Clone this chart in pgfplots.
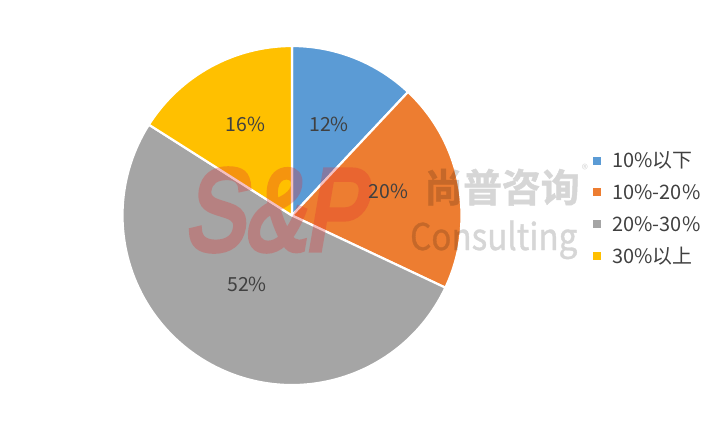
\documentclass[border=0pt]{standalone}
\usepackage{fontspec}
\setmainfont{Noto Sans CJK SC}
\newfontfamily\wmfont{Liberation Sans}[FakeSlant=0.22, FakeBold=5]
\newfontfamily\cjkbold{Noto Sans CJK SC Bold}[FakeBold=1.2]
\newfontfamily\wmlatin{Noto Sans CJK SC}[FakeBold=1]
\usepackage{pgfplots}
\usepackage{pgfplotstable}
\pgfplotsset{compat=1.18}

\definecolor{c1}{HTML}{5B9BD5}
\definecolor{c2}{HTML}{ED7D31}
\definecolor{c3}{HTML}{A5A5A5}
\definecolor{c4}{HTML}{FFC000}
\definecolor{txt}{HTML}{404040}
\definecolor{wmred}{HTML}{E03030}

% share in percent, slice colour, label position (px), legend row (px)
\pgfplotstableread[col sep=comma]{
name,value,colour,lx,ly,legy
10\%以下,12,c1,329,124.5,160.5
10\%-20\%,20,c2,388.3,191.3,192.3
20\%-30\%,52,c3,247,284.5,224.2
30\%以上,16,c4,245.5,124.5,256
}\piedata

\begin{document}
\begin{tikzpicture}
% slice angles, clockwise from 12 o'clock
\def\cum{0}
\pgfplotsforeachungrouped \i in {0,1,2,3}{%
  \pgfplotstablegetelem{\i}{value}\of\piedata
  \expandafter\let\csname sv\i\endcsname\pgfplotsretval
  \pgfmathsetmacro\a{90-3.6*\cum}%
  \pgfmathsetmacro\cum{\cum+\pgfplotsretval}%
  \pgfmathsetmacro\b{90-3.6*\cum}%
  \expandafter\let\csname sa\i\endcsname\a
  \expandafter\let\csname sb\i\endcsname\b
  \pgfplotstablegetelem{\i}{colour}\of\piedata
  \expandafter\let\csname sc\i\endcsname\pgfplotsretval
  \pgfplotstablegetelem{\i}{lx}\of\piedata
  \expandafter\let\csname lx\i\endcsname\pgfplotsretval
  \pgfplotstablegetelem{\i}{ly}\of\piedata
  \expandafter\let\csname ly\i\endcsname\pgfplotsretval
  \pgfplotstablegetelem{\i}{legy}\of\piedata
  \expandafter\let\csname gy\i\endcsname\pgfplotsretval
  \pgfplotstablegetelem{\i}{name}\of\piedata
  \expandafter\let\csname sn\i\endcsname\pgfplotsretval
}
\begin{axis}[
  scale only axis,
  x=1bp, y=1bp,
  xmin=0, xmax=720,
  ymin=0, ymax=432,
  y dir=reverse,
  hide axis,
  clip=false,
]
\path (axis cs:0,0) rectangle (axis cs:720,432);

% slices
\pgfplotsinvokeforeach{0,...,3}{
  \fill[\csname sc#1\endcsname, draw=white, line width=2.2bp, line join=round]
    (axis cs:292,215.5) -- ++(\csname sa#1\endcsname:169.5bp)
    arc[start angle=\csname sa#1\endcsname, end angle=\csname sb#1\endcsname, radius=169.5bp]
    -- cycle;
}

% watermark
\begin{scope}[transparency group, opacity=0.3]
\node[wmred, xscale=0.78, font=\wmfont\fontsize{116}{116}\selectfont]
  at (axis cs:274,210) {S\&P};
\end{scope}
\begin{scope}[transparency group, opacity=0.16]
\node[black, anchor=base west, inner sep=0pt,
  font=\cjkbold\fontsize{39}{39}\selectfont]
  at (axis cs:424,202) {尚普咨询};
\node[black, inner sep=0pt, font=\fontsize{13}{13}\selectfont]
  at (axis cs:585,169) {®};
\node[black, anchor=base west, inner sep=0pt, xscale=0.9,
  font=\wmlatin\fontsize{37}{37}\selectfont]
  at (axis cs:410,250) {Consulting};
\end{scope}

% data labels
\pgfplotsinvokeforeach{0,...,3}{
  \node[txt, inner sep=0pt, font=\fontsize{19.5}{22}\selectfont]
    at (axis cs:\csname lx#1\endcsname,\csname ly#1\endcsname)
    {\csname sv#1\endcsname\%};
}

% legend
\pgfplotsinvokeforeach{0,...,3}{
  \fill[\csname sc#1\endcsname]
    (axis cs:593.3,\csname gy#1\endcsname-4) rectangle (axis cs:601.3,\csname gy#1\endcsname+4);
  \node[txt, anchor=base west, inner sep=0pt, font=\fontsize{20}{22}\selectfont]
    at (axis cs:612.3,\csname gy#1\endcsname+7) {\csname sn#1\endcsname};
}
\end{axis}
\end{tikzpicture}
\end{document}
